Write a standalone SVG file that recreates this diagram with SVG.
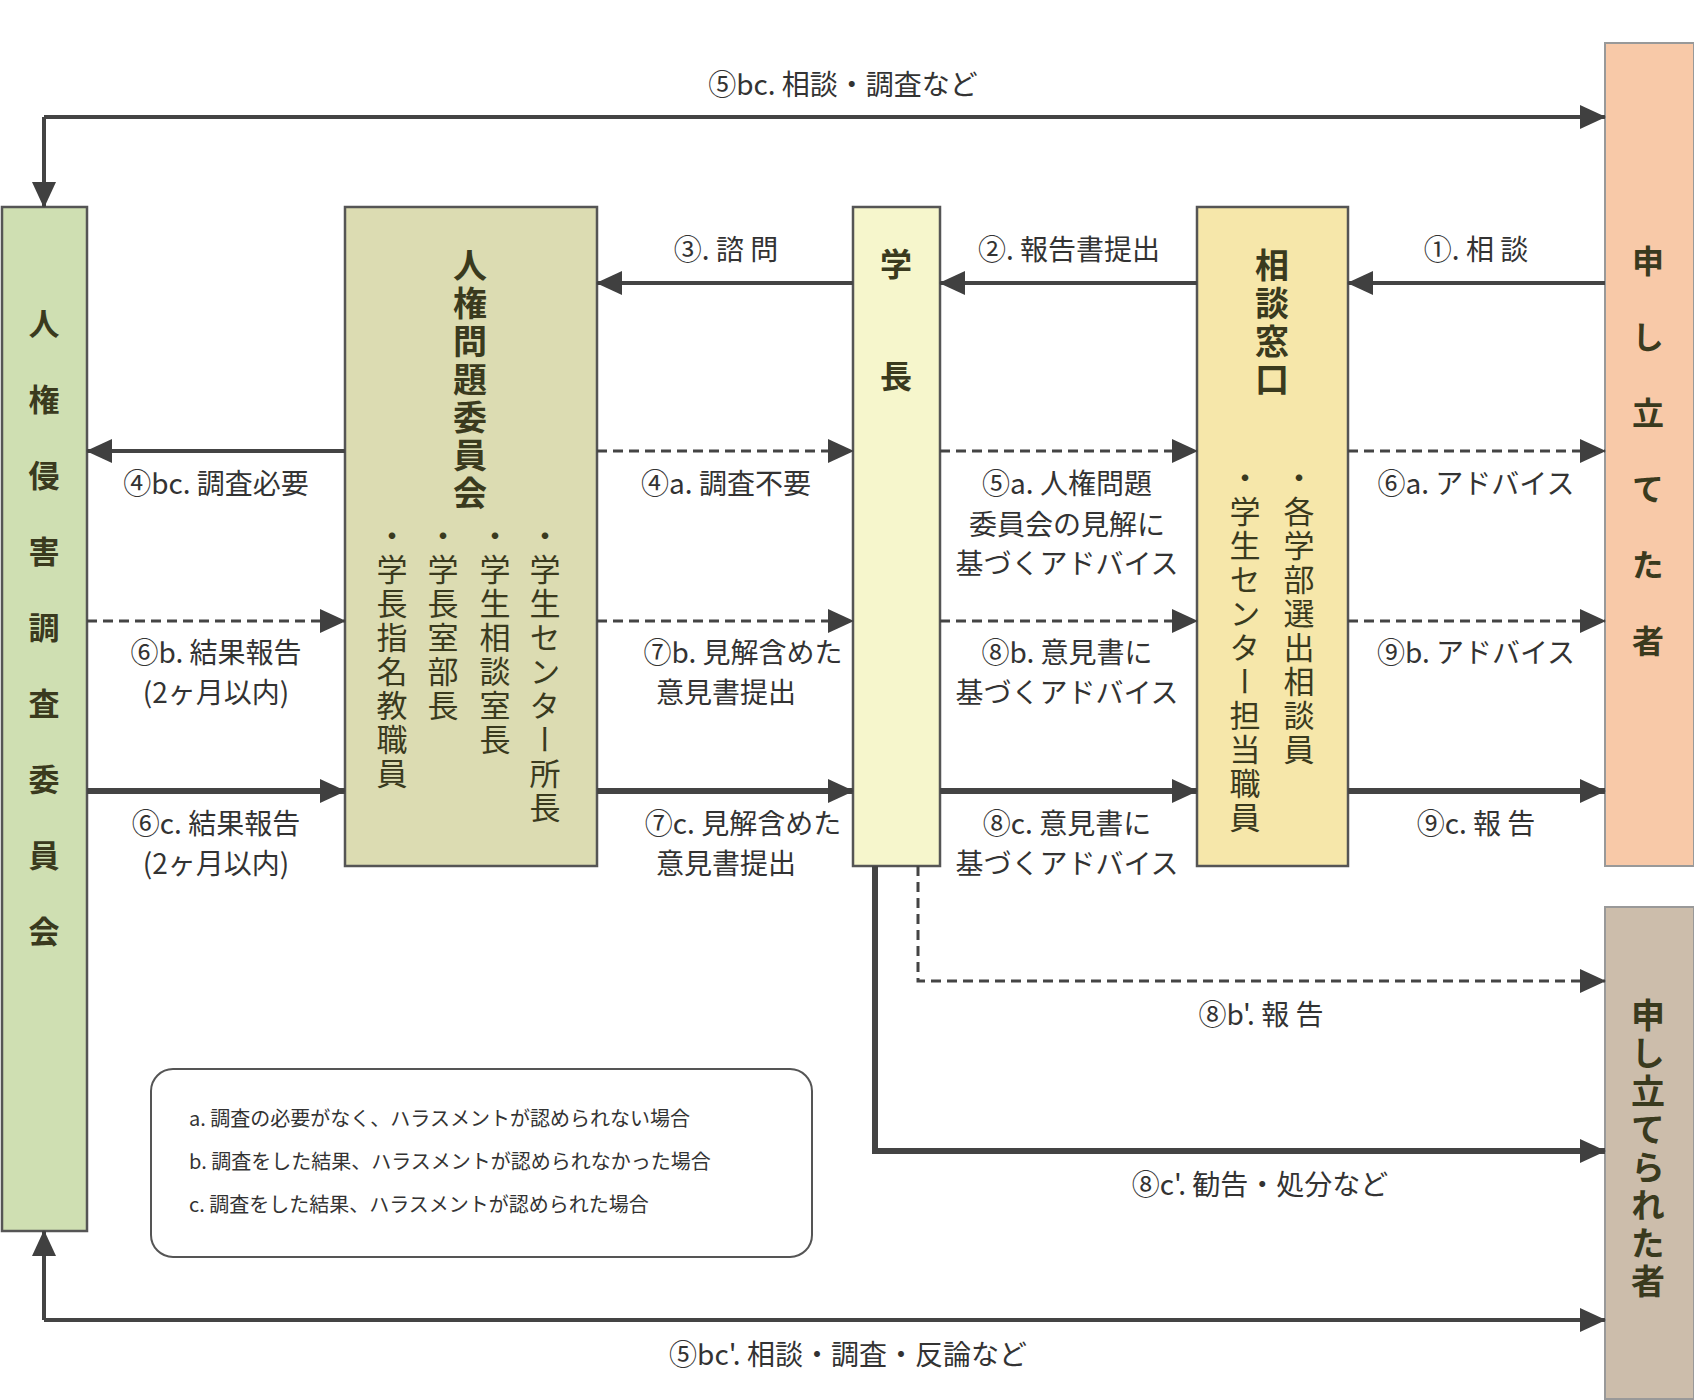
<svg xmlns="http://www.w3.org/2000/svg" width="1694" height="1400" viewBox="0 0 1694 1400">
<style>
.t{font-family:"Noto Sans CJK JP","Noto Sans",sans-serif;fill:#333;font-size:28px;text-anchor:middle}
.l{font-family:"Noto Sans CJK JP","Noto Sans",sans-serif;fill:#333;font-size:20px}
.v{font-family:"Noto Sans CJK JP",sans-serif;fill:#3a3a1e;writing-mode:vertical-rl;font-weight:bold}
.m{font-family:"Noto Sans CJK JP",sans-serif;fill:#3a3a1e;writing-mode:vertical-rl;font-size:31px}
.box{stroke:#555;stroke-width:2.5}
.s{stroke:#444;stroke-width:4;fill:none;marker-end:url(#a)}
.d{stroke:#444;stroke-width:3;stroke-dasharray:10,6;fill:none;marker-end:url(#a)}
.k{stroke:#444;stroke-width:6;fill:none;marker-end:url(#a)}
</style>
<defs>
<marker id="a" markerUnits="userSpaceOnUse" markerWidth="26" markerHeight="24" refX="25" refY="12" orient="auto"><path d="M0,0 L26,12 L0,24 z" fill="#404040"/></marker>
</defs>
<rect width="1694" height="1400" fill="#fff"/>
<g id="investigation">
<rect class="box" x="2" y="207" width="85" height="1024" fill="#cfdfb2"/>
<text class="v" x="44" y="308" font-size="31" letter-spacing="45">人権侵害調査委員会</text>
</g>
<g id="committee">
<rect class="box" x="345" y="207" width="252" height="659" fill="#dcdcb2"/>
<text class="v" x="470" y="248" font-size="34" letter-spacing="4">人権問題委員会</text>
<text class="m" x="545" y="520" letter-spacing="3">・学生センター所長</text>
<text class="m" x="495" y="520" letter-spacing="3">・学生相談室長</text>
<text class="m" x="443" y="520" letter-spacing="3">・学長室部長</text>
<text class="m" x="392" y="520" letter-spacing="3">・学長指名教職員</text>
</g>
<g id="president">
<rect class="box" x="853" y="207" width="87" height="659" fill="#f6f6cc"/>
<text class="v" x="896" y="248" font-size="32" letter-spacing="80">学長</text>
</g>
<g id="counter">
<rect class="box" x="1197" y="207" width="151" height="659" fill="#f6e7aa"/>
<text class="v" x="1272" y="248" font-size="34" letter-spacing="4">相談窓口</text>
<text class="m" x="1299" y="462" letter-spacing="3">・各学部選出相談員</text>
<text class="m" x="1245" y="462" letter-spacing="3">・学生センター担当職員</text>
</g>
<g id="complainant">
<rect x="1605" y="43" width="89" height="823" fill="#f8c9a8" stroke="#999" stroke-width="2"/>
<text class="v" x="1648" y="245" font-size="32" letter-spacing="44">申し立てた者</text>
</g>
<g id="respondent">
<rect x="1605" y="907" width="89" height="492" fill="#ccbdab" stroke="#999" stroke-width="2"/>
<text class="v" x="1648" y="998" font-size="34" letter-spacing="4">申し立てられた者</text>
</g>
<g id="connectors">
<path class="s" d="M44,117 H1605"/>
<path class="s" d="M44,117 V207"/>
<path class="s" d="M44,1320 H1605"/>
<path class="s" d="M44,1320 V1231"/>
<path class="s" d="M1605,283 H1348"/>
<path class="s" d="M1197,283 H940"/>
<path class="s" d="M853,283 H597"/>
<path class="s" d="M345,451 H87"/>
<path class="d" d="M597,451 H853"/>
<path class="d" d="M940,451 H1197"/>
<path class="d" d="M1348,451 H1605"/>
<path class="d" d="M87,621 H345"/>
<path class="d" d="M597,621 H853"/>
<path class="d" d="M940,621 H1197"/>
<path class="d" d="M1348,621 H1605"/>
<path class="k" d="M87,791 H345"/>
<path class="k" d="M597,791 H853"/>
<path class="k" d="M940,791 H1197"/>
<path class="k" d="M1348,791 H1605"/>
<path class="d" d="M918,866 V981 H1605"/>
<path class="k" d="M875,866 V1151 H1605"/>
</g>
<g id="labels">
<text class="t" x="843" y="95">⑤bc. 相談・調査など</text>
<text class="t" x="848" y="1365">⑤bc'. 相談・調査・反論など</text>
<text class="t" x="1476" y="260">①. 相 談</text>
<text class="t" x="1069" y="260">②. 報告書提出</text>
<text class="t" x="726" y="260">③. 諮 問</text>
<text class="t" x="216" y="494">④bc. 調査必要</text>
<text class="t" x="726" y="494">④a. 調査不要</text>
<text class="t" x="1067" y="494">⑤a. 人権問題</text>
<text class="t" x="1067" y="535">委員会の見解に</text>
<text class="t" x="1067" y="574">基づくアドバイス</text>
<text class="t" x="1476" y="494">⑥a. アドバイス</text>
<text class="t" x="216" y="663">⑥b. 結果報告</text>
<text class="t" x="216" y="703">(2ヶ月以内)</text>
<text class="t" x="743" y="663">⑦b. 見解含めた</text>
<text class="t" x="726" y="703">意見書提出</text>
<text class="t" x="1067" y="663">⑧b. 意見書に</text>
<text class="t" x="1067" y="703">基づくアドバイス</text>
<text class="t" x="1476" y="663">⑨b. アドバイス</text>
<text class="t" x="216" y="834">⑥c. 結果報告</text>
<text class="t" x="216" y="874">(2ヶ月以内)</text>
<text class="t" x="743" y="834">⑦c. 見解含めた</text>
<text class="t" x="726" y="874">意見書提出</text>
<text class="t" x="1067" y="834">⑧c. 意見書に</text>
<text class="t" x="1067" y="874">基づくアドバイス</text>
<text class="t" x="1476" y="834">⑨c. 報 告</text>
<text class="t" x="1261" y="1025">⑧b'. 報 告</text>
<text class="t" x="1260" y="1195">⑧c'. 勧告・処分など</text>
</g>
<g id="legend">
<rect x="151" y="1069" width="661" height="188" rx="22" fill="#fff" stroke="#555" stroke-width="2"/>
<text class="l" x="189" y="1126">a. 調査の必要がなく、ハラスメントが認められない場合</text>
<text class="l" x="189" y="1169">b. 調査をした結果、ハラスメントが認められなかった場合</text>
<text class="l" x="189" y="1212">c. 調査をした結果、ハラスメントが認められた場合</text>
</g>
</svg>
